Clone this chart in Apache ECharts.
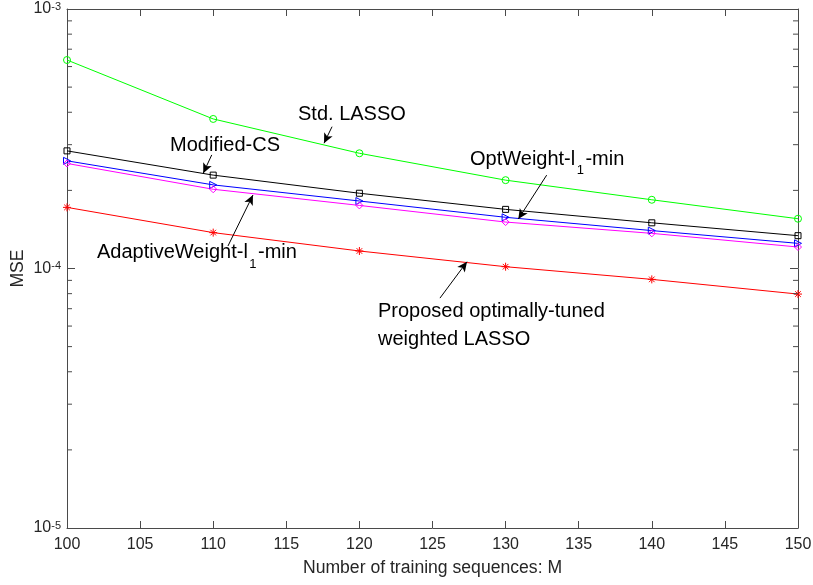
<!DOCTYPE html>
<html>
<head>
<meta charset="utf-8">
<script src="https://cdn.jsdelivr.net/npm/echarts@6/dist/echarts.min.js"></script>
<style>
html,body{margin:0;padding:0;background:#fff;}
#chart{width:813px;height:585px;}
</style>
</head>
<body>
<div id="chart"></div>
<script>
// ---- data ----
const M = [100, 110, 120, 130, 140, 150];
const stdLasso       = [6.36e-4, 3.77e-4, 2.78e-4, 2.19e-4, 1.84e-4, 1.555e-4];
const modifiedCS     = [2.84e-4, 2.29e-4, 1.95e-4, 1.69e-4, 1.50e-4, 1.338e-4];
const optWeight      = [2.60e-4, 2.10e-4, 1.82e-4, 1.575e-4, 1.40e-4, 1.25e-4];
const adaptiveWeight = [2.54e-4, 2.02e-4, 1.75e-4, 1.51e-4, 1.366e-4, 1.21e-4];
const proposed       = [1.72e-4, 1.375e-4, 1.168e-4, 1.016e-4, 9.08e-5, 7.97e-5];
const yMinorTicks = [2e-5,3e-5,4e-5,5e-5,6e-5,7e-5,8e-5,9e-5,2e-4,3e-4,4e-4,5e-4,6e-4,7e-4,8e-4,9e-4];

const FONT = "'Liberation Sans', Arial, Helvetica, sans-serif";
const AX = '#4a4a4a';
const TXT = '#262626';

function pairs(arr){ return M.map((x,i)=>[x, arr[i]]); }

const asterisk = 'path://M0,-5L0,5M-5,0L5,0M-3.5,-3.5L3.5,3.5M-3.5,3.5L3.5,-3.5';

function lineSeries(name, data, color, symbol, size, rotate){
  return {
    name, type:'line', data: pairs(data), xAxisIndex:0, yAxisIndex:0,
    symbol, symbolSize: size, symbolRotate: rotate || 0, showSymbol: true,
    lineStyle:{color, width:1},
    itemStyle:{color:'none', borderColor: color, borderWidth:1},
    emphasis:{disabled:true}, animation:false, z:3
  };
}

// arrows (annotation) in data coordinates: [from, to]
const arrows = [
  [[118.13, 3.52e-4], [117.58, 3.04e-4]],
  [[109.90, 2.74e-4], [109.32, 2.33e-4]],
  [[111.01, 1.221e-4], [112.72, 1.919e-4]],
  [[132.81, 2.29e-4], [130.87, 1.551e-4]],
  [[125.51, 7.69e-5], [127.36, 1.062e-4]]
];

const chart = echarts.init(document.getElementById('chart'), null, {renderer:'canvas'});

const series = [
  lineSeries('Std. LASSO', stdLasso, '#00ff00', 'circle', 7),
  lineSeries('Modified-CS', modifiedCS, '#000000', 'rect', 6),
  lineSeries('OptWeight-l1-min', optWeight, '#0000ff', 'triangle', 7, -90),
  lineSeries('AdaptiveWeight-l1-min', adaptiveWeight, '#ff00ff', 'diamond', 7),
  lineSeries('Proposed', proposed, '#ff0000', asterisk, 8),
  {
    type:'custom', xAxisIndex:0, yAxisIndex:0, silent:true, animation:false, z:5,
    data: yMinorTicks.map(v=>[100, v]),
    renderItem: function(params, api){
      const v = api.value(1);
      const pl = api.coord([100, v]);
      const pr = api.coord([150, v]);
      return {type:'group', children:[
        {type:'line', shape:{x1:pl[0], y1:pl[1], x2:pl[0]+5, y2:pl[1]}, style:{stroke:AX, lineWidth:1}},
        {type:'line', shape:{x1:pr[0], y1:pr[1], x2:pr[0]-5, y2:pr[1]}, style:{stroke:AX, lineWidth:1}}
      ]};
    }
  },
  {
    type:'line', xAxisIndex:0, yAxisIndex:0, data:[], silent:true, animation:false,
    markLine:{
      silent:true, animation:false,
      symbol:['none','arrow'], symbolSize:[7,10],
      label:{show:false},
      lineStyle:{color:'#000', width:1, type:'solid'},
      data: arrows.map(a=>[{coord:a[0]},{coord:a[1]}])
    }
  }
];

const annFont = 20;
const subFont = 13;
const measureCtx = document.createElement('canvas').getContext('2d');
function textW(t, size){ measureCtx.font = size + 'px ' + FONT; return measureCtx.measureText(t).width; }

function txt(x, y, text, size, extra){
  return Object.assign({
    type:'text', x:x, y:y, silent:true, z:100,
    style:{text:text, fill:'#000', font: (size||annFont) + 'px ' + FONT,
           textAlign:'left', textVerticalAlign:'middle', align:'left', verticalAlign:'middle'}
  }, extra||{});
}

// label with a subscript: main text, subscript, tail text
function subLabel(x, y, head, sub, tail){
  const w1 = textW(head, annFont);
  const w2 = textW(sub, subFont);
  return [
    txt(x, y, head, annFont),
    txt(x + w1 + 1.5, y + 11.5, sub, subFont),
    txt(x + w1 + w2 + 3, y, tail, annFont)
  ];
}

const graphic = [
  txt(298, 114, 'Std. LASSO'),
  txt(170, 145, 'Modified-CS'),
  ...subLabel(97, 252.5, 'AdaptiveWeight-l', '1', '-min'),
  ...subLabel(470, 159, 'OptWeight-l', '1', '-min'),
  {type:'text', x:378, y:325.5, silent:true, z:100,
   style:{text:'Proposed optimally-tuned\nweighted LASSO', fill:'#000', lineHeight:27.5,
          font: annFont+'px '+FONT, textAlign:'left', textVerticalAlign:'middle', align:'left', verticalAlign:'middle'}}
];

const option = {
  backgroundColor:'#ffffff',
  animation:false,
  grid:{left:67, right:15, top:9, bottom:57, containLabel:false, outerBoundsMode:'none'},
  xAxis:[
    {type:'value', min:100, max:150, interval:5, position:'bottom',
     name:'Number of training sequences: M', nameLocation:'middle', nameGap:31, nameMoveOverlap:false,
     nameTextStyle:{fontFamily:FONT, fontSize:17.6, color:TXT},
     axisLine:{show:true, onZero:false, lineStyle:{color:AX, width:1}},
     axisTick:{show:true, inside:true, length:7, lineStyle:{color:AX}},
     axisLabel:{show:true, margin:9, fontFamily:FONT, fontSize:16, color:TXT},
     splitLine:{show:false}},
    {type:'value', min:100, max:150, interval:5, position:'top',
     axisLine:{show:true, onZero:false, lineStyle:{color:AX, width:1}},
     axisTick:{show:true, inside:true, length:7, lineStyle:{color:AX}},
     axisLabel:{show:false}, splitLine:{show:false}}
  ],
  yAxis:[
    {type:'log', logBase:10, min:1e-5, max:1e-3, position:'left',
     name:'MSE', nameLocation:'middle', nameGap:40, nameRotate:90, nameMoveOverlap:false,
     nameTextStyle:{fontFamily:FONT, fontSize:17.6, color:TXT},
     axisLine:{show:true, onZero:false, lineStyle:{color:AX, width:1}},
     axisTick:{show:true, inside:true, length:8, lineStyle:{color:AX}},
     axisLabel:{show:true, margin:6, color:TXT, fontFamily:FONT, fontSize:16,
       formatter:function(v){ const e = Math.round(Math.log10(v)); return '{b|10}{s|' + e + '}'; },
       rich:{
         b:{fontFamily:FONT, fontSize:16, color:TXT, lineHeight:16, verticalAlign:'bottom', padding:[6,0,0,0]},
         s:{fontFamily:FONT, fontSize:11, color:TXT, lineHeight:11, verticalAlign:'top'}
       }},
     splitLine:{show:false}, minorTick:{show:false}},
    {type:'log', logBase:10, min:1e-5, max:1e-3, position:'right',
     axisLine:{show:true, onZero:false, lineStyle:{color:AX, width:1}},
     axisTick:{show:true, inside:true, length:8, lineStyle:{color:AX}},
     axisLabel:{show:false}, splitLine:{show:false}}
  ],
  series: series,
  graphic: graphic
};

chart.setOption(option);
</script>
</body>
</html>
